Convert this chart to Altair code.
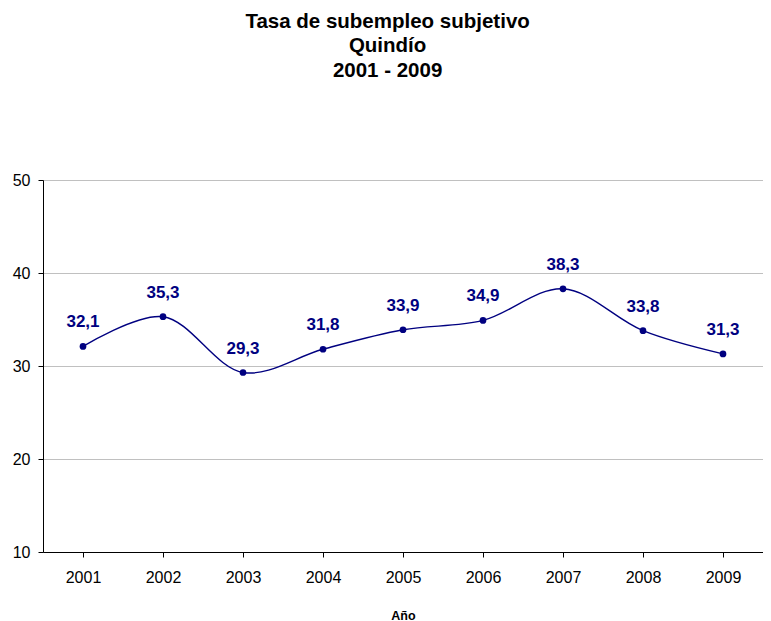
import altair as alt
import pandas as pd

years = ["2001", "2002", "2003", "2004", "2005", "2006", "2007", "2008", "2009"]
values = [32.1, 35.3, 29.3, 31.8, 33.9, 34.9, 38.3, 33.8, 31.3]
labels = ["32,1", "35,3", "29,3", "31,8", "33,9", "34,9", "38,3", "33,8", "31,3"]
y_ticks = [10, 20, 30, 40, 50]

df = pd.DataFrame({"Año": years, "Tasa": values, "Etiqueta": labels})

NAVY = "#000080"
FONT = "Liberation Sans"

x_enc = alt.X(
    "Año:O",
    sort=years,
    scale=alt.Scale(paddingInner=0, paddingOuter=0),
    axis=alt.Axis(
        title="Año",
        labelAngle=0,
        bandPosition=0,
        tickSize=5,
        tickColor="black",
        domainColor="black",
        labelFont=FONT,
        labelFontSize=16,
        labelColor="black",
        labelPadding=12,
        titleFont=FONT,
        titleFontSize=12.5,
        titleFontWeight="bold",
        titleColor="black",
        titlePadding=24,
        grid=False,
    ),
)
y_enc = alt.Y(
    "Tasa:Q",
    scale=alt.Scale(domain=[10, 50], nice=False, zero=False),
    axis=alt.Axis(
        title=None,
        values=y_ticks,
        tickSize=5,
        tickColor="black",
        domainColor="black",
        labelFont=FONT,
        labelFontSize=16,
        labelColor="black",
        labelPadding=8,
        grid=True,
        gridColor="#c0c0c0",
        gridWidth=1,
    ),
)

base = alt.Chart(df).encode(x=x_enc, y=y_enc)

line = base.mark_line(color=NAVY, strokeWidth=1.4, interpolate="catmull-rom")
points = base.mark_point(filled=True, color=NAVY, size=45, opacity=1)
text = base.mark_text(
    color=NAVY, font=FONT, fontSize=17, fontWeight="bold", dy=-19, baseline="alphabetic"
).encode(text="Etiqueta:N")

chart = (
    alt.layer(line, points, text)
    .properties(
        width=720,
        height=372,
        title=alt.TitleParams(
            text=["Tasa de subempleo subjetivo", "Quindío", "2001 - 2009"],
            font=FONT,
            fontSize=20.5,
            fontWeight="bold",
            color="black",
            lineHeight=24.5,
            anchor="middle",
            frame="bounds",
            offset=91,
        ),
        padding={"left": 35, "top": 172, "right": 0, "bottom": 73},
        autosize=alt.AutoSizeParams(type="none"),
    )
    .configure_view(stroke=None)
    .configure(background="white")
)

chart.save("out.html", embed_options={"renderer": "svg", "actions": False})
